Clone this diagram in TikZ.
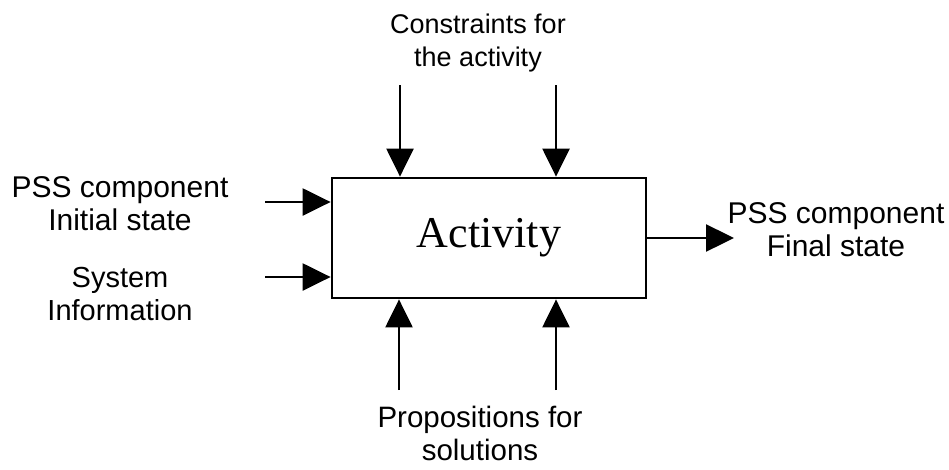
\documentclass[tikz,border=0pt]{standalone}
\usepackage{fontspec}
\setmainfont{Liberation Serif}
\setsansfont{Liberation Sans}
\usetikzlibrary{arrows.meta}
\begin{document}
\begin{tikzpicture}[x=1pt,y=-1pt,
  flow/.style={line width=2.4pt,-{Triangle[length=28pt,width=27pt]}},
  label/.style={font=\sffamily\fontsize{#1}{33}\selectfont,align=center,inner sep=0pt},
  label/.default=29,
  activitybox/.style={draw,line width=2.8pt,minimum width=314pt,minimum height=120pt,
    font=\fontsize{44}{48}\selectfont,inner sep=0pt}]
  \useasboundingbox (0,0) rectangle (949,469);
  % central activity box
  \node[activitybox] (act) at (489,238) {Activity};
  % labels
  \node[label=27] (ctrl) at (478,43) {Constraints for\\the activity};
  \node[label=30] (in1) at (120,204) {PSS component\\Initial state};
  \node[label=29] (in2) at (120,294) {System\\Information};
  \node[label=30] (out) at (836,230) {PSS component\\Final state};
  \node[label=29.5] (mech) at (480,433) {Propositions for\\solutions};
  % free ends of the connectors
  \coordinate (c1) at (400,85);
  \coordinate (c2) at (556,85);
  \coordinate (i1) at (265,202);
  \coordinate (i2) at (265,277);
  \coordinate (o1) at (734,238);
  \coordinate (m1) at (399,390);
  \coordinate (m2) at (556,390);
  % connectors
  \draw[flow] (c1) -- (c1 |- act.north);
  \draw[flow] (c2) -- (c2 |- act.north);
  \draw[flow] (i1) -- (i1 -| act.west);
  \draw[flow] (i2) -- (i2 -| act.west);
  \draw[flow] (act.east) -- (o1);
  \draw[flow] (m1) -- (m1 |- act.south);
  \draw[flow] (m2) -- (m2 |- act.south);
\end{tikzpicture}
\end{document}
